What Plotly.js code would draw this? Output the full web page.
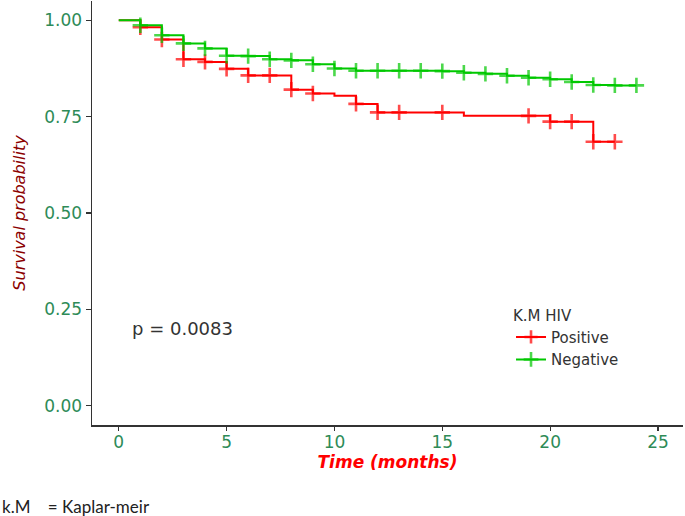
<!DOCTYPE html>
<html>
<head>
<meta charset="utf-8">
<script src="https://cdn.plot.ly/plotly-3.0.1.min.js"></script>
<style>html,body{margin:0;padding:0;background:#fff;}#chart{width:685px;height:516px;}</style>
</head>
<body>
<div id="chart"></div>
<script>
// Kaplan-Meier estimates
var posTime   = [0, 1, 2, 3, 4, 5, 6, 7, 8, 9, 10, 11, 12, 13, 15, 16, 19, 20, 21, 22, 23];
var posSurv   = [1.000, 0.982, 0.950, 0.899, 0.892, 0.874, 0.857, 0.857, 0.820, 0.810, 0.804, 0.783, 0.761, 0.761, 0.761, 0.752, 0.752, 0.737, 0.737, 0.685, 0.685];
var posCensor = [1, 2, 3, 4, 5, 6, 7, 8, 9, 11, 12, 13, 15, 19, 20, 21, 22, 23];

var negTime   = [0, 1, 2, 3, 4, 5, 6, 7, 8, 9, 10, 11, 12, 13, 14, 15, 16, 17, 18, 19, 20, 21, 22, 23, 24];
var negSurv   = [1.000, 0.987, 0.961, 0.940, 0.927, 0.908, 0.907, 0.899, 0.896, 0.886, 0.875, 0.869, 0.869, 0.869, 0.869, 0.868, 0.864, 0.861, 0.856, 0.851, 0.847, 0.840, 0.832, 0.831, 0.831];
var negCensor = [1, 2, 3, 4, 5, 6, 7, 8, 9, 10, 11, 12, 13, 14, 15, 16, 17, 18, 19, 20, 21, 22, 23, 24];

var groupNames = ["Positive", "Negative"];
var xTicks = [0, 5, 10, 15, 20, 25];
var yTicks = [0, 0.25, 0.5, 0.75, 1];
var yTickText = ["0.00", "0.25", "0.50", "0.75", "1.00"];
var pValueText = "p = 0.0083";

function kmTrace(name, t, s, cens, color) {
  return {
    type: "scatter",
    mode: "lines+markers",
    name: name,
    x: t, y: s,
    line: {shape: "hv", color: color, width: 2},
    marker: {
      symbol: "cross-thin",
      color: color,
      size: t.map(function (v) { return cens.indexOf(v) >= 0 ? 11 : 0; }),
      line: {color: color, width: 2.6}
    },
    hoverinfo: "x+y+name"
  };
}

var data = [
  kmTrace(groupNames[0], posTime, posSurv, posCensor, "#FF0000"),
  kmTrace(groupNames[1], negTime, negSurv, negCensor, "#00C800")
];

var tickColor = "#2E8B57";
var layout = {
  width: 685, height: 516,
  margin: {l: 92, r: 2, t: 1, b: 91, pad: 0},
  paper_bgcolor: "#ffffff", plot_bgcolor: "#ffffff",
  showlegend: true,
  xaxis: {
    range: [-1.24, 26.16],
    tickvals: xTicks,
    ticktext: xTicks.map(String),
    showgrid: false, zeroline: false,
    showline: true, linecolor: "#333333", linewidth: 1.5,
    ticks: "outside", ticklen: 4, tickwidth: 1.2, tickcolor: "#333333",
    ticklabelstandoff: -3,
    tickfont: {family: "DejaVu Sans", size: 17, color: tickColor},
    title: {text: "<b><i>Time (months)</i></b>", font: {family: "DejaVu Sans", size: 17, color: "#FF0000"}, standoff: 0}
  },
  yaxis: {
    range: [-0.05, 1.05],
    tickvals: yTicks,
    ticktext: yTickText,
    showgrid: false, zeroline: false,
    showline: true, linecolor: "#333333", linewidth: 1.5,
    ticks: "outside", ticklen: 5, tickwidth: 1.2, tickcolor: "#333333",
    tickfont: {family: "DejaVu Sans", size: 17, color: tickColor},
    title: {text: "<i>Survival probability</i>", font: {family: "DejaVu Sans", size: 16, color: "#8B0000"}, standoff: 14}
  },
  legend: {
    x: 0.709, y: 0.292, xanchor: "left", yanchor: "top",
    bgcolor: "rgba(0,0,0,0)",
    font: {family: "DejaVu Sans", size: 15, color: "#333333"},
    title: {text: "K.M HIV", font: {family: "DejaVu Sans", size: 15, color: "#333333"}},
    traceorder: "normal"
  },
  annotations: [
    {
      xref: "x", yref: "y", x: 0.5, y: 0.2,
      xanchor: "left", yanchor: "middle",
      text: pValueText, showarrow: false,
      font: {family: "DejaVu Sans", size: 18, color: "#333333"}
    },
    {
      xref: "paper", yref: "paper", x: -92 / 591, y: -0.193,
      xanchor: "left", yanchor: "middle",
      text: "k.M\u00a0\u00a0\u00a0\u00a0= Kaplar-meir", showarrow: false,
      font: {family: "Lato", size: 17, color: "#222222"}
    }
  ]
};

Plotly.newPlot("chart", data, layout, {displayModeBar: false, staticPlot: true});
</script>
</body>
</html>
